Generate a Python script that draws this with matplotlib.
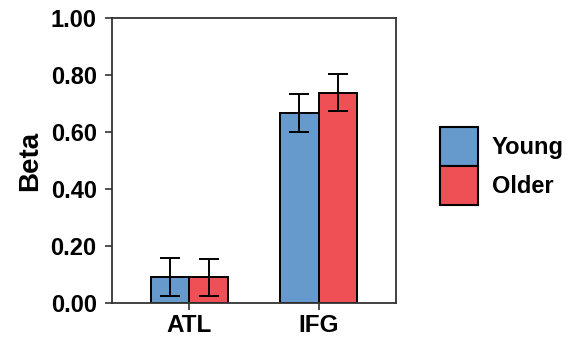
import numpy as np
from matplotlib import pyplot as plt
from matplotlib.patches import Patch

plt.rcParams['font.family'] = ['Liberation Sans', 'DejaVu Sans']
plt.rcParams['font.weight'] = 'bold'

regions = ["ATL", "IFG"]
groups = ["Young", "Older"]
beta_young = [0.091, 0.668]
beta_older = [0.090, 0.738]
err_young = [0.068, 0.067]
err_older = [0.065, 0.066]
colors = ["#6699CC", "#EE5056"]

fig = plt.figure(figsize=(5.76, 3.43), dpi=100)
ax = fig.add_axes([0.1944, 0.1166, 0.4931, 0.8309])

x = np.arange(1, len(regions) + 1)
w = 0.3
vals = [beta_young, beta_older]
errs = [err_young, err_older]
for i in range(2):
    pos = x + (i - 0.5) * w
    ax.bar(pos, vals[i], width=w, color=colors[i], edgecolor="black", linewidth=1.4, zorder=2)
    ax.errorbar(pos, vals[i], yerr=errs[i], fmt="none", ecolor="black",
                elinewidth=1.4, capsize=7, capthick=1.4, zorder=3)

ax.set_xlim(0.4, 2.6)
ax.set_ylim(0, 1.0)
ax.set_xticks(x)
ax.set_xticklabels(regions, fontsize=17.5, fontweight="bold")
ax.set_yticks(np.arange(0, 1.01, 0.2))
ax.set_yticklabels(["%.2f" % v for v in np.arange(0, 1.01, 0.2)], fontsize=17, fontweight="bold")
ax.set_ylabel("Beta", fontsize=20, fontweight="bold")
ax.yaxis.set_label_coords(-0.243, 0.5)
for s in ax.spines.values():
    s.set_color("#333333")
    s.set_linewidth(1.3)
ax.tick_params(axis="both", length=5, width=1.2, color="#333333", labelcolor="black")
ax.tick_params(axis="y", pad=6)
ax.tick_params(axis="x", pad=3)

handles = [Patch(facecolor=colors[i], edgecolor="black", linewidth=1.5) for i in range(2)]
fig.legend(handles, groups, loc="upper left", bbox_to_anchor=(0.764, 0.630), frameon=False,
           fontsize=17, handlelength=1.6, handleheight=2.16, labelspacing=0.0,
           handletextpad=0.6, borderpad=0, borderaxespad=0)

fig.savefig("out.png", dpi=100)
